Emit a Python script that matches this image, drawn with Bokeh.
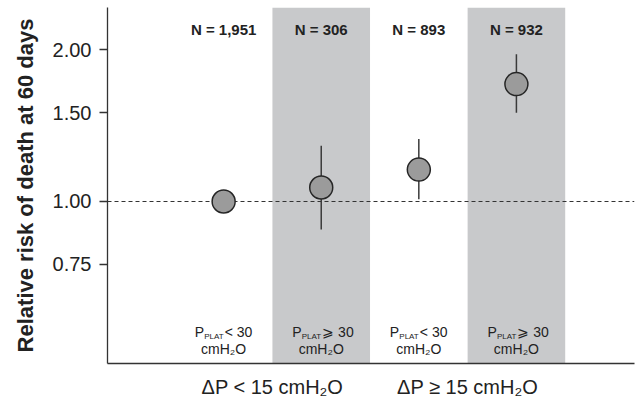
from bokeh.plotting import figure
from bokeh.models import (FixedTicker, PrintfTickFormatter, Span, BoxAnnotation,
                          Range1d, ColumnDataSource)
from bokeh.core.properties import value
from bokeh.embed import file_html
from bokeh.resources import INLINE

# ---------------- data ----------------
categories = [1, 2, 3, 4]
relative_risk = [1.00, 1.066, 1.157, 1.71]
ci_low = [1.00, 0.88, 1.01, 1.50]
ci_high = [1.00, 1.29, 1.33, 1.96]
n_labels = ["N = 1,951", "N = 306", "N = 893", "N = 932"]
pplat_high = [False, True, False, True]
pplat_ops = ["< 30", "\u2a7e 30", "< 30", "\u2a7e 30"]
group_labels = ["\u0394P < 15 cmH\u2082O", "\u0394P \u2265 15 cmH\u2082O"]
group_centers = [1.5, 3.5]
y_ticks = [0.75, 1.00, 1.50, 2.00]

FONT = "Liberation Sans"
TXT = "#222222"

p = figure(width=643, height=400, output_backend="svg", toolbar_location=None,
           y_axis_type="log",
           x_range=Range1d(-0.19, 5.21), y_range=Range1d(0.477, 2.426),
           min_border_left=107, min_border_right=9, min_border_top=7,
           min_border_bottom=37)
p.outline_line_color = None
p.grid.visible = False
p.background_fill_color = "white"

# shaded bands for P_PLAT >= 30
for c, hi in zip(categories, pplat_high):
    if hi:
        p.add_layout(BoxAnnotation(left=c - 0.5, right=c + 0.5, fill_color="#c8c9cb",
                                   fill_alpha=1.0, line_color=None, level="underlay"))

p.add_layout(Span(location=1.0, dimension="width", line_color="#333333",
                  line_width=1.2, line_dash="4 3", level="underlay"))

src = ColumnDataSource(dict(x=categories, rr=relative_risk, lo=ci_low, hi=ci_high))

p.segment(x0="x", y0="lo", x1="x", y1="hi", source=src, line_color="#3a3a3a",
          line_width=1.5)
p.scatter(x="x", y="rr", source=src, size=23, fill_color="#9b9b9b",
          line_color="#262626", line_width=1.5)

# N labels
n_y = [2.194] * len(categories)
p.text(x=categories, y=n_y, text=n_labels, text_font=value(FONT),
       text_font_style="bold", text_font_size="15px", text_color=TXT,
       text_align="center", text_baseline="alphabetic")

# bottom labels  P_PLAT < 30 / cmH2O
row1 = [0.5497] * len(categories)
row2 = [0.5086] * len(categories)
sub1 = [0.5395] * len(categories)
p.text(x=categories, y=row1, text=["P"] * 4, x_offset=-29, text_font=value(FONT),
       text_font_size="14px", text_color=TXT, text_align="left",
       text_baseline="alphabetic")
p.text(x=categories, y=sub1, text=["PLAT"] * 4, x_offset=-19.5, text_font=value(FONT),
       text_font_size="8px", text_color=TXT, text_align="left",
       text_baseline="alphabetic")
p.text(x=categories, y=row1, text=pplat_ops,
       x_offset=1, text_font=value(FONT), text_font_size="14px", text_color=TXT,
       text_align="left", text_baseline="alphabetic")
p.text(x=categories, y=row2, text=["cmH\u2082O"] * 4, text_font=value(FONT),
       text_font_size="14px", text_color=TXT, text_align="center",
       text_baseline="alphabetic")

# axes
p.yaxis.ticker = FixedTicker(ticks=y_ticks, minor_ticks=[])
p.yaxis.formatter = PrintfTickFormatter(format="%.2f")
p.yaxis.major_label_text_font = FONT
p.yaxis.major_label_text_font_size = "20px"
p.yaxis.major_label_text_color = TXT
p.yaxis.major_tick_out = 8
p.yaxis.major_tick_in = 0
p.yaxis.major_label_standoff = 8
p.yaxis.axis_label = "Relative risk of death at 60 days"
p.yaxis.axis_label_text_font = FONT
p.yaxis.axis_label_text_font_style = "bold"
p.yaxis.axis_label_text_font_size = "22px"
p.yaxis.axis_label_text_color = TXT
p.yaxis.axis_label_standoff = 12

p.xaxis.ticker = FixedTicker(ticks=group_centers, minor_ticks=[])
p.xaxis.major_label_overrides = {c: l for c, l in zip(group_centers, group_labels)}
p.xaxis.major_label_text_font = FONT
p.xaxis.major_label_text_font_size = "20px"
p.xaxis.major_label_text_color = TXT
p.xaxis.major_label_standoff = 12
p.xaxis.major_tick_out = 0
p.xaxis.major_tick_in = 0
p.xaxis.major_tick_line_color = None
p.xaxis.minor_tick_line_color = None

for ax in (p.xaxis, p.yaxis):
    ax.axis_line_color = "#333333"
    ax.axis_line_width = 1.3
p.yaxis.major_tick_line_color = "#333333"
p.yaxis.major_tick_line_width = 1.3

open("out.html", "w").write(file_html(p, INLINE))
